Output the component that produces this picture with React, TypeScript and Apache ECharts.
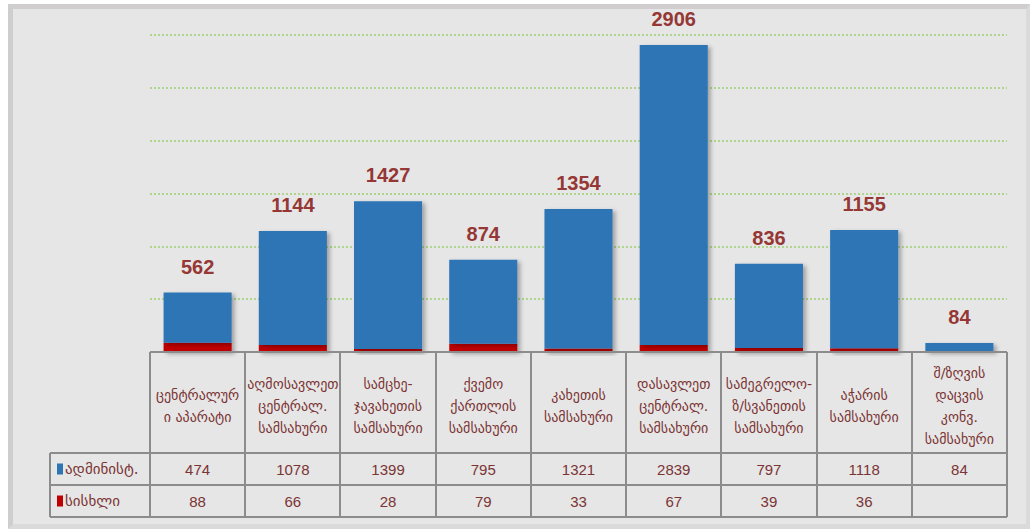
import React, { useEffect, useRef } from "react";
import * as echarts from "echarts";

const categories = [
  "ცენტრალურ\nი აპარატი",
  "აღმოსავლეთ\nცენტრალ.\nსამსახური",
  "სამცხე-\nჯავახეთის\nსამსახური",
  "ქვემო\nქართლის\nსამსახური",
  "კახეთის\nსამსახური",
  "დასავლეთ\nცენტრალ.\nსამსახური",
  "სამეგრელო-\nზ/სვანეთის\nსამსახური",
  "აჭარის\nსამსახური",
  "შ/ზღვის\nდაცვის\nკონვ.\nსამსახური",
];
const adminName = "ადმინისტ.";
const bloodName = "სისხლი";
const adminValues = [474, 1078, 1399, 795, 1321, 2839, 797, 1118, 84];
const bloodValues: (number | null)[] = [88, 66, 28, 79, 33, 67, 39, 36, null];
const totalLabels = [562, 1144, 1427, 874, 1354, 2906, 836, 1155, 84];

const GRID_LEFT = 150;
const GRID_RIGHT_X = 1007;
const GRID_TOP = 35;
const BASE_Y = 352;
const W = 1030;
const H = 529;
const ROW1_Y = 453;
const ROW2_Y = 485;
const ROW3_Y = 517;
const TABLE_LEFT = 50;

const GEO_FONT = "'DejaVu Sans', sans-serif";
const NUM_FONT = "'Liberation Sans', Arial, sans-serif";
const TEXT_COLOR = "#7b3434";
const LINE_COLOR = "#8c8c8c";

export default function App() {
  const ref = useRef<HTMLDivElement>(null);
  useEffect(() => {
    if (!ref.current) return;
    const chart = echarts.init(ref.current, undefined, { renderer: "svg" });
    const n = categories.length;
    const colW = (GRID_RIGHT_X - GRID_LEFT) / n;
    const lines: any[] = [];
    const mkLine = (x1: number, y1: number, x2: number, y2: number) => ({
      type: "line",
      z: 50,
      shape: { x1, y1, x2, y2 },
      style: { stroke: LINE_COLOR, lineWidth: 2 },
      silent: true,
    });
    lines.push(mkLine(GRID_LEFT, BASE_Y, GRID_RIGHT_X, BASE_Y));
    lines.push(mkLine(TABLE_LEFT, ROW1_Y, GRID_RIGHT_X, ROW1_Y));
    lines.push(mkLine(TABLE_LEFT, ROW2_Y, GRID_RIGHT_X, ROW2_Y));
    lines.push(mkLine(TABLE_LEFT, ROW3_Y, GRID_RIGHT_X, ROW3_Y));
    lines.push(mkLine(TABLE_LEFT, ROW1_Y, TABLE_LEFT, ROW3_Y));
    for (let k = 0; k <= n; k++) {
      const x = Math.round(GRID_LEFT + k * colW);
      lines.push(mkLine(x, BASE_Y, x, ROW3_Y));
    }

    const tableAxis = (data: string[], margin: number) => ({
      type: "category",
      gridIndex: 0,
      position: "bottom",
      data,
      axisLine: { show: false },
      axisTick: { show: false },
      splitLine: { show: false },
      axisLabel: {
        interval: 0,
        margin,
        verticalAlign: "middle",
        color: TEXT_COLOR,
        fontFamily: NUM_FONT,
        fontSize: 15,
      },
    });

    chart.setOption({
      animation: false,
      backgroundColor: "transparent",
      grid: {
        left: GRID_LEFT,
        right: W - GRID_RIGHT_X,
        top: GRID_TOP,
        bottom: H - BASE_Y,
        containLabel: false,
      },
      legend: {
        orient: "vertical",
        left: 57,
        top: 460,
        padding: 0,
        itemGap: 14,
        itemWidth: 6,
        itemHeight: 11,
        icon: "rect",
        data: [adminName, bloodName],
        textStyle: {
          color: TEXT_COLOR,
          fontFamily: GEO_FONT,
          fontSize: 15,
          lineHeight: 18,
          padding: [0, 0, 0, -3],
        },
      },
      xAxis: [
        {
          type: "category",
          data: categories,
          axisLine: { show: false },
          axisTick: { show: false },
          axisLabel: {
            interval: 0,
            margin: 54,
            verticalAlign: "middle",
            color: TEXT_COLOR,
            fontFamily: GEO_FONT,
            fontSize: 14,
            lineHeight: 22,
          },
        },
        tableAxis(adminValues.map((v) => String(v)), (ROW1_Y + ROW2_Y) / 2 - BASE_Y),
        tableAxis(
          bloodValues.map((v) => (v == null ? " " : String(v))),
          (ROW2_Y + ROW3_Y) / 2 - BASE_Y
        ),
      ],
      yAxis: {
        type: "value",
        min: 0,
        max: 3000,
        interval: 500,
        axisLine: { show: false },
        axisTick: { show: false },
        axisLabel: { show: false },
        splitLine: {
          lineStyle: { color: "#9ccf6e", type: [2, 2], width: 1.5 },
        },
      },
      series: [
        {
          name: bloodName,
          type: "bar",
          stack: "total",
          barCategoryGap: "28.5%",
          data: bloodValues.map((v) => (v == null ? 0 : v)),
          itemStyle: {
            color: "#c00000",
            shadowBlur: 4,
            shadowOffsetX: 3,
            shadowOffsetY: 2,
            shadowColor: "rgba(0,0,0,0.3)",
          },
        },
        {
          name: adminName,
          type: "bar",
          stack: "total",
          barCategoryGap: "28.5%",
          data: adminValues,
          itemStyle: {
            color: "#2e75b6",
            shadowBlur: 4,
            shadowOffsetX: 3,
            shadowOffsetY: 2,
            shadowColor: "rgba(0,0,0,0.3)",
          },
          label: {
            show: true,
            position: "top",
            distance: 16,
            formatter: (p: any) => String(totalLabels[p.dataIndex]),
            color: "#953735",
            fontWeight: "bold",
            fontSize: 20,
            fontFamily: "'Liberation Sans', sans-serif",
          },
        },
      ],
      graphic: lines,
    });
    return () => chart.dispose();
  }, []);

  return (
    <div style={{ position: "absolute", left: 0, top: 0, width: W, height: H, background: "#ffffff" }}>
      <div
        style={{
          position: "absolute",
          left: 8,
          top: 4,
          width: W - 8,
          height: H - 4,
          boxSizing: "border-box",
          background: "#e6e6e6",
          borderTop: "5px solid #cfcdcd",
          borderLeft: "5px solid #cfcdcd",
          borderRight: "4px solid #dadada",
          borderBottom: "5px solid #dadada",
        }}
      />
      <div ref={ref} style={{ position: "absolute", left: 0, top: 0, width: W, height: H }} />
    </div>
  );
}
